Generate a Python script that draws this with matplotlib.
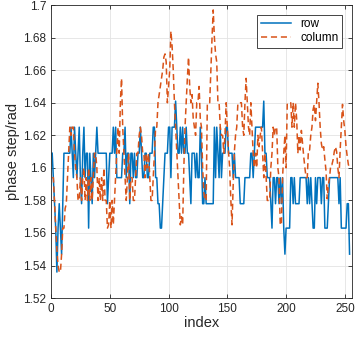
import matplotlib
matplotlib.use('Agg')
import matplotlib.pyplot as plt
import numpy as np

plt.rcParams['font.family'] = ['Liberation Sans', 'DejaVu Sans']

# phase step per index
row = [
    1.609, 1.594, 1.578, 1.563, 1.536, 1.563, 1.578, 1.563, 1.547, 1.578,
    1.609, 1.609, 1.609, 1.609, 1.609, 1.609, 1.625, 1.609, 1.594, 1.625,
    1.609, 1.594, 1.609, 1.625, 1.594, 1.578, 1.609, 1.625, 1.594, 1.609,
    1.609, 1.563, 1.609, 1.594, 1.578, 1.609, 1.594, 1.609, 1.625, 1.609,
    1.609, 1.609, 1.609, 1.609, 1.609, 1.609, 1.609, 1.578, 1.594, 1.609,
    1.609, 1.609, 1.625, 1.609, 1.625, 1.594, 1.594, 1.594, 1.594, 1.594,
    1.609, 1.609, 1.625, 1.594, 1.609, 1.609, 1.578, 1.609, 1.609, 1.594,
    1.609, 1.594, 1.594, 1.609, 1.609, 1.625, 1.609, 1.594, 1.594, 1.609,
    1.609, 1.594, 1.594, 1.609, 1.609, 1.609, 1.625, 1.625, 1.594, 1.594,
    1.578, 1.578, 1.563, 1.563, 1.578, 1.594, 1.609, 1.609, 1.609, 1.625,
    1.625, 1.594, 1.625, 1.625, 1.625, 1.641, 1.625, 1.609, 1.609, 1.625,
    1.609, 1.625, 1.609, 1.609, 1.625, 1.609, 1.609, 1.594, 1.578, 1.609,
    1.609, 1.609, 1.594, 1.609, 1.594, 1.594, 1.625, 1.609, 1.578, 1.578,
    1.594, 1.578, 1.578, 1.578, 1.578, 1.578, 1.578, 1.578, 1.625, 1.594,
    1.625, 1.609, 1.594, 1.625, 1.594, 1.609, 1.609, 1.609, 1.625, 1.625,
    1.609, 1.609, 1.609, 1.609, 1.594, 1.609, 1.594, 1.594, 1.594, 1.594,
    1.578, 1.578, 1.578, 1.578, 1.594, 1.594, 1.594, 1.594, 1.594, 1.609,
    1.609, 1.594, 1.609, 1.625, 1.625, 1.625, 1.625, 1.625, 1.625, 1.625,
    1.641, 1.609, 1.609, 1.594, 1.594, 1.594, 1.578, 1.563, 1.594, 1.594,
    1.578, 1.594, 1.594, 1.578, 1.594, 1.578, 1.594, 1.563, 1.547, 1.563,
    1.563, 1.563, 1.563, 1.594, 1.594, 1.578, 1.594, 1.578, 1.578, 1.578,
    1.578, 1.594, 1.594, 1.594, 1.594, 1.594, 1.594, 1.578, 1.594, 1.578,
    1.594, 1.578, 1.563, 1.563, 1.594, 1.578, 1.594, 1.594, 1.594, 1.578,
    1.594, 1.594, 1.563, 1.563, 1.563, 1.578, 1.594, 1.594, 1.594, 1.594,
    1.594, 1.594, 1.594, 1.594, 1.578, 1.594, 1.563, 1.563, 1.563, 1.563,
    1.563, 1.578, 1.578, 1.547,
]

column = [
    1.594, 1.594, 1.578, 1.563, 1.550, 1.540, 1.536, 1.536, 1.547, 1.563,
    1.563, 1.575, 1.578, 1.594, 1.609, 1.625, 1.620, 1.625, 1.625, 1.609,
    1.600, 1.594, 1.580, 1.580, 1.594, 1.580, 1.594, 1.600, 1.580, 1.594,
    1.580, 1.600, 1.580, 1.594, 1.580, 1.594, 1.609, 1.609, 1.600, 1.580,
    1.594, 1.580, 1.594, 1.580, 1.600, 1.580, 1.580, 1.563, 1.565, 1.580,
    1.563, 1.580, 1.565, 1.580, 1.594, 1.609, 1.625, 1.609, 1.640, 1.655,
    1.625, 1.609, 1.594, 1.580, 1.594, 1.609, 1.580, 1.594, 1.594, 1.580,
    1.580, 1.594, 1.609, 1.609, 1.620, 1.625, 1.620, 1.609, 1.609, 1.594,
    1.609, 1.600, 1.609, 1.594, 1.580, 1.580, 1.594, 1.609, 1.625, 1.625,
    1.640, 1.645, 1.650, 1.655, 1.660, 1.668, 1.670, 1.665, 1.640, 1.650,
    1.660, 1.684, 1.675, 1.660, 1.640, 1.625, 1.609, 1.594, 1.580, 1.565,
    1.570, 1.565, 1.600, 1.625, 1.640, 1.655, 1.668, 1.650, 1.640, 1.645,
    1.630, 1.625, 1.620, 1.640, 1.640, 1.650, 1.630, 1.625, 1.600, 1.585,
    1.580, 1.580, 1.640, 1.640, 1.640, 1.660, 1.680, 1.697, 1.680, 1.670,
    1.665, 1.640, 1.640, 1.625, 1.620, 1.620, 1.609, 1.620, 1.640, 1.625,
    1.610, 1.600, 1.580, 1.565, 1.590, 1.610, 1.620, 1.625, 1.640, 1.640,
    1.640, 1.640, 1.625, 1.620, 1.640, 1.655, 1.640, 1.625, 1.620, 1.640,
    1.625, 1.609, 1.600, 1.609, 1.600, 1.620, 1.613, 1.620, 1.625, 1.610,
    1.594, 1.609, 1.594, 1.580, 1.580, 1.580, 1.600, 1.609, 1.625, 1.620,
    1.625, 1.625, 1.600, 1.594, 1.565, 1.565, 1.594, 1.609, 1.620, 1.600,
    1.640, 1.640, 1.640, 1.640, 1.625, 1.640, 1.625, 1.640, 1.630, 1.609,
    1.620, 1.611, 1.623, 1.615, 1.607, 1.600, 1.594, 1.594, 1.611, 1.611,
    1.620, 1.625, 1.636, 1.639, 1.629, 1.640, 1.652, 1.640, 1.625, 1.615,
    1.611, 1.613, 1.605, 1.598, 1.581, 1.590, 1.594, 1.602, 1.602, 1.605,
    1.610, 1.613, 1.610, 1.600, 1.594, 1.611, 1.625, 1.639, 1.629, 1.623,
    1.613, 1.607, 1.602, 1.600,
]

x = np.arange(1, len(row) + 1)

fig = plt.figure(figsize=(3.58, 3.38), dpi=100)
ax = fig.add_axes([0.1425, 0.118, 0.8405, 0.867])

ax.plot(x, row, color='#0072BD', lw=1.1, label='row')
ax.plot(x, column, color='#D95319', lw=1.1, ls=(0, (4, 2.5)), label='column')

ax.set_xlim(0, 256)
ax.set_ylim(1.52, 1.7)
ax.set_xticks([0, 50, 100, 150, 200, 250])
yt = np.arange(1.52, 1.7001, 0.02)
ax.set_yticks(yt)
ax.set_yticklabels(['%g' % round(v, 2) for v in yt])

ax.grid(True, color='#e3e3e3', lw=0.6)
ax.set_axisbelow(True)
ax.tick_params(direction='in', length=3, width=0.6, labelsize=8.5,
               colors='#262626', top=True, right=True)
for s in ax.spines.values():
    s.set_color('#262626')
    s.set_linewidth(0.6)

ax.set_xlabel('index', fontsize=10.5, color='#262626', labelpad=1)
ax.set_ylabel('phase step/rad', fontsize=10.5, color='#262626', labelpad=2)

leg = ax.legend(loc='upper right', fontsize=8.5, fancybox=False,
                framealpha=1, edgecolor='#262626', borderpad=0.3,
                handlelength=2.6, labelspacing=0.2, borderaxespad=0.8)
leg.get_frame().set_linewidth(0.6)

fig.savefig('out.png', dpi=100)
